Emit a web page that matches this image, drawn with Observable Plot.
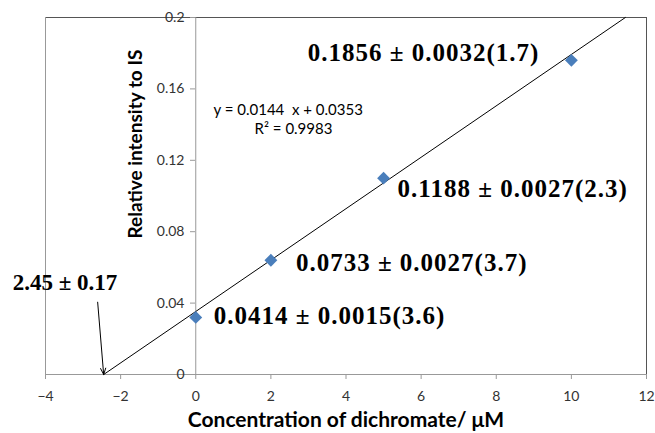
<!DOCTYPE html>
<html><head><meta charset="utf-8">
<script src="https://cdn.jsdelivr.net/npm/d3@7"></script>
<script src="https://cdn.jsdelivr.net/npm/@observablehq/plot@0.6"></script>
<style>
body{margin:0;background:#fff}
g[font-size="25"] text{letter-spacing:1px}
</style>
</head><body><div id="chart"></div>
<script>
// ---- data ----
const concentrations = [0, 2, 5, 10];
const intensities = [0.032, 0.064, 0.110, 0.176];
const pointLabels = ["0.0414 ± 0.0015(3.6)", "0.0733 ± 0.0027(3.7)", "0.1188 ± 0.0027(2.3)", "0.1856 ± 0.0032(1.7)"];
const slope = 0.0144;
const intercept = 0.0353;
const rSquared = 0.9983;
const xInterceptLabel = "2.45 ± 0.17";
const xTicks = [-4, -2, 0, 2, 4, 6, 8, 10, 12];
const yTicks = [0, 0.04, 0.08, 0.12, 0.16, 0.2];
const yTickLabels = ["0", "0.04", "0.08", "0.12", "0.16", "0.2"];
const xTitle = "Concentration of dichromate/ μM";
const yTitle = "Relative intensity to IS";

// ---- derived tables ----
const points = concentrations.map((x, i) => ({x, y: intensities[i], label: pointLabels[i]}));
const yMax = yTicks[yTicks.length - 1];
const xZero = -intercept / slope;
const xTop = (yMax - intercept) / slope;
const fit = [xZero, xTop].map(x => ({x, y: slope * x + intercept}));
const arrowData = [{x1: xZero - 0.16, y1: 0.0405, x2: xZero, y2: 0}];

const serif = {fontFamily: "Liberation Serif, Times New Roman, serif", fontWeight: "bold", fill: "#000"};
const offsets = [
  {dx: 18, dy: -1, textAnchor: "start"},
  {dx: 25, dy: 3, textAnchor: "start"},
  {dx: 14, dy: 11, textAnchor: "start"},
  {dx: -32, dy: -7, textAnchor: "end"}
];

const chart = Plot.plot({
  width: 655,
  height: 433,
  marginLeft: 45,
  marginRight: 9,
  marginTop: 17,
  marginBottom: 59,
  style: {fontFamily: "Lato, sans-serif", background: "#fff", color: "#000"},
  x: {domain: [-4, 12]},
  y: {domain: [0, yMax]},
  marks: [
    Plot.frame({stroke: "#555"}),
    Plot.ruleY([0], {stroke: "#999"}),
    Plot.ruleX([-4], {stroke: "#999"}),
    Plot.ruleX([0], {stroke: "#999"}),
    Plot.axisX(xTicks, {tickSize: 5, tickPadding: 12, fontSize: 14, stroke: "#999", fill: "#333", label: null}),
    Plot.axisY(yTicks, {dx: 150, tickSize: 5, tickPadding: 6, fontSize: 14, stroke: "#999", fill: "#333", label: null,
      tickFormat: d => yTickLabels[yTicks.indexOf(d)]}),
    Plot.line(fit, {x: "x", y: "y", stroke: "#000", strokeWidth: 1}),
    Plot.dot(points, {x: "x", y: "y", symbol: "diamond2", r: 5.8, fill: "#4a7ebb", stroke: "none"}),
    ...offsets.map((o, i) => Plot.text([points[i]], {x: "x", y: "y", text: "label", ...o, ...serif, fontSize: 25})),
    Plot.arrow(arrowData, {x1: "x1", y1: "y1", x2: "x2", y2: "y2", stroke: "#000", strokeWidth: 1, headLength: 10, headAngle: 45}),
    Plot.text(arrowData, {x: "x1", y: "y1", text: () => xInterceptLabel, dx: -85, dy: -20, textAnchor: "start", ...serif, fontSize: 23}),
    Plot.text([`y = ${slope}\u00a0 x + ${intercept}`], {frameAnchor: "top-left", dx: 168, dy: 87, textAnchor: "start", fontSize: 15, fill: "#000"}),
    Plot.text([`R² = ${rSquared}`], {frameAnchor: "top-left", dx: 248, dy: 106, textAnchor: "middle", fontSize: 15, fill: "#000"}),
    Plot.text([yTitle], {frameAnchor: "left", rotate: -90, dx: 90, dy: -52, textAnchor: "middle", fontSize: 19, fontWeight: "bold", fill: "#000"}),
    Plot.text([xTitle], {frameAnchor: "bottom", dy: 52, textAnchor: "middle", fontSize: 21, fontWeight: "bold", fill: "#000"})
  ]
});
document.getElementById("chart").appendChild(chart);
</script>
</body></html>
